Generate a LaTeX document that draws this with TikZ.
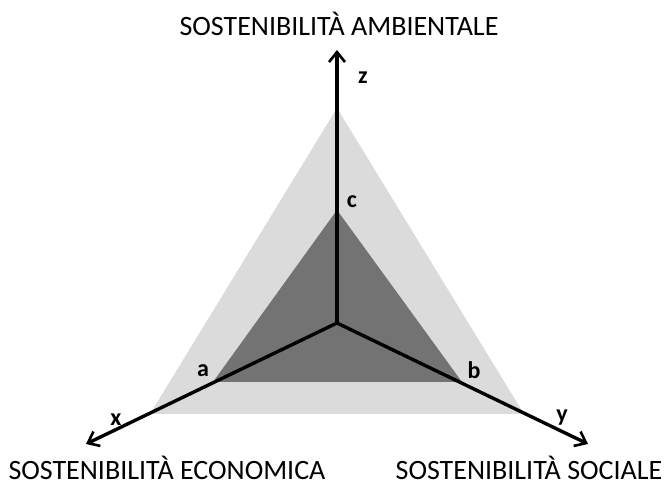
\documentclass[tikz,border=0pt]{standalone}
\usepackage{fontspec}
\setmainfont{Carlito}
\usetikzlibrary{arrows.meta}

\tikzset{
	axis/.style={line width=3.4pt, -{Straight Barb[length=10pt, width=16pt, line width=2.6pt]}},
	ptlabel/.style={font=\fontsize{24}{24}\selectfont\bfseries},
	dimlabel/.style={font=\fontsize{28}{30}\selectfont, inner sep=0pt}
}

\begin{document}
\begin{tikzpicture}[x=1pt, y=-1pt]
		\useasboundingbox (0,0) rectangle (670,486);
		\coordinate (O) at (337,323);
		\coordinate (xend) at (86,444);
		\coordinate (yend) at (588,444);
		\coordinate (zend) at (337,50);
		\coordinate (a) at (213,382);
		\coordinate (b) at (462,382);
		\coordinate (c) at (337,210);
		% outer and inner planes
		\fill[fill=black!14] (150,414) -- (524,414) -- (337,108) -- cycle;
		\fill[fill=black!55] (a) -- (b) -- (c) -- cycle;
		\draw[axis] (O) -- (zend);
		\draw[axis] (O) -- (xend);
		\draw[axis] (O) -- (yend);
		\node[ptlabel] (zlab) at (363,78) {z};
		\node[ptlabel] (clab) at (352,202) {c};
		\node[ptlabel] (alab) at (203,371) {a};
		\node[ptlabel] (blab) at (474,370) {b};
		\node[ptlabel] (xlab) at (116,420) {x};
		\node[ptlabel] (ylab) at (562,418) {y};
		\node[dimlabel, anchor=base] (amb) at (339,36) {SOSTENIBILITÀ AMBIENTALE};
		\node[dimlabel, anchor=base] (eco) at (167,479) {SOSTENIBILITÀ ECONOMICA};
		\node[dimlabel, anchor=base] (soc) at (529,479) {SOSTENIBILITÀ SOCIALE};
\end{tikzpicture}
\end{document}
